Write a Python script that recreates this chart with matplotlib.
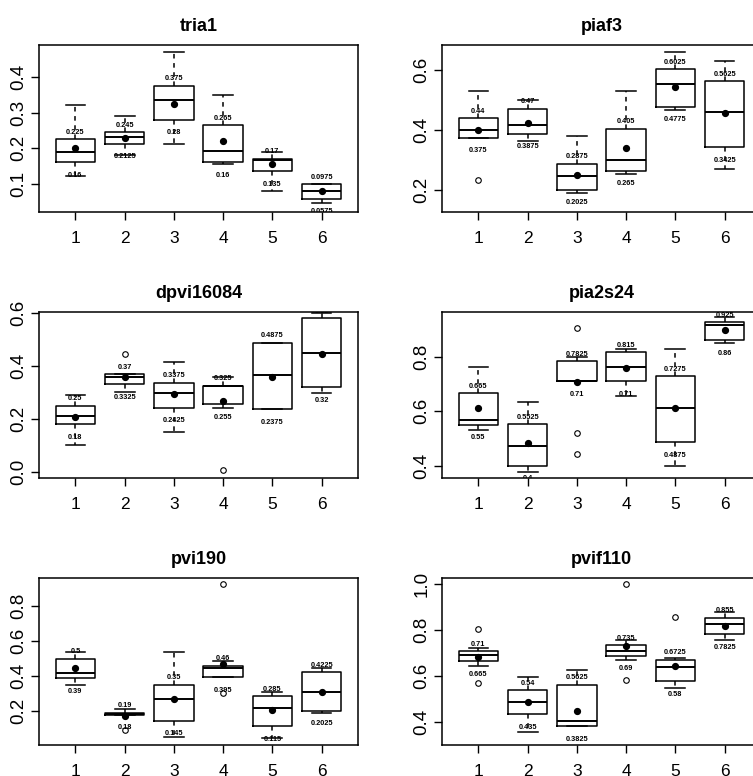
import matplotlib
matplotlib.use("Agg")
import matplotlib.pyplot as plt

plt.rcParams['font.family'] = ['Liberation Sans', 'DejaVu Sans']

groups = [1, 2, 3, 4, 5, 6]

# ---- tria1 ----
tria1_lo = [0.12, 0.18, 0.21, 0.155, 0.08, 0.045]
tria1_q1 = [0.16, 0.2125, 0.28, 0.16, 0.135, 0.0575]
tria1_med = [0.19, 0.23, 0.335, 0.193, 0.165, 0.078]
tria1_q3 = [0.225, 0.245, 0.375, 0.265, 0.17, 0.0975]
tria1_hi = [0.32, 0.29, 0.47, 0.35, 0.19, 0.0975]
tria1_mean = [0.20, 0.228, 0.325, 0.22, 0.154, 0.078]
tria1_out = [[], [], [], [], [], []]

# ---- piaf3 ----
piaf3_lo = [0.375, 0.3625, 0.19, 0.255, 0.465, 0.272]
piaf3_q1 = [0.375, 0.3875, 0.2025, 0.265, 0.4775, 0.3425]
piaf3_med = [0.40, 0.418, 0.246, 0.301, 0.553, 0.461]
piaf3_q3 = [0.44, 0.47, 0.2875, 0.405, 0.6025, 0.5625]
piaf3_hi = [0.53, 0.50, 0.38, 0.53, 0.66, 0.628]
piaf3_mean = [0.40, 0.424, 0.252, 0.340, 0.544, 0.457]
piaf3_out = [[0.235], [], [], [], [], []]

# ---- dpvi16084 ----
dpvi_lo = [0.10, 0.30, 0.15, 0.243, 0.2375, 0.297]
dpvi_q1 = [0.18, 0.3325, 0.2425, 0.255, 0.2375, 0.32]
dpvi_med = [0.213, 0.36, 0.297, 0.325, 0.366, 0.45]
dpvi_q3 = [0.25, 0.37, 0.3375, 0.325, 0.4875, 0.58]
dpvi_hi = [0.29, 0.37, 0.414, 0.357, 0.4875, 0.60]
dpvi_mean = [0.209, 0.357, 0.295, 0.266, 0.360, 0.444]
dpvi_out = [[], [0.446], [], [0.006], [], []]

# ---- pia2s24 ----
pia2_lo = [0.53, 0.378, 0.71, 0.656, 0.40, 0.85]
pia2_q1 = [0.55, 0.40, 0.71, 0.71, 0.4875, 0.86]
pia2_med = [0.568, 0.473, 0.71, 0.763, 0.61, 0.916]
pia2_q3 = [0.665, 0.5525, 0.7825, 0.815, 0.7275, 0.925]
pia2_hi = [0.762, 0.632, 0.80, 0.827, 0.827, 0.945]
pia2_mean = [0.612, 0.482, 0.705, 0.757, 0.612, 0.898]
pia2_out = [[], [], [0.904, 0.521, 0.443], [], [], []]

# ---- pvi190 ----
pvi_lo = [0.35, 0.18, 0.05, 0.395, 0.045, 0.19]
pvi_q1 = [0.39, 0.18, 0.145, 0.395, 0.115, 0.2025]
pvi_med = [0.42, 0.185, 0.267, 0.444, 0.219, 0.31]
pvi_q3 = [0.50, 0.19, 0.35, 0.46, 0.285, 0.4225]
pvi_hi = [0.54, 0.21, 0.537, 0.486, 0.309, 0.448]
pvi_mean = [0.448, 0.171, 0.270, 0.47, 0.206, 0.310]
pvi_out = [[], [0.09], [], [0.93, 0.305], [], []]

# ---- pvif110 ----
pvif_lo = [0.643, 0.356, 0.3825, 0.672, 0.548, 0.756]
pvif_q1 = [0.665, 0.435, 0.3825, 0.69, 0.58, 0.7825]
pvif_med = [0.693, 0.487, 0.407, 0.709, 0.64, 0.826]
pvif_q3 = [0.71, 0.54, 0.5625, 0.735, 0.6725, 0.855]
pvif_hi = [0.722, 0.596, 0.629, 0.756, 0.679, 0.879]
pvif_mean = [0.686, 0.487, 0.451, 0.734, 0.647, 0.821]
pvif_out = [[0.804, 0.570], [], [], [1.0, 0.582], [0.857], []]

panels = [
    ("tria1", tria1_lo, tria1_q1, tria1_med, tria1_q3, tria1_hi, tria1_mean, tria1_out,
     (0.02, 0.49), [0.1, 0.2, 0.3, 0.4]),
    ("piaf3", piaf3_lo, piaf3_q1, piaf3_med, piaf3_q3, piaf3_hi, piaf3_mean, piaf3_out,
     (0.128, 0.682), [0.2, 0.4, 0.6]),
    ("dpvi16084", dpvi_lo, dpvi_q1, dpvi_med, dpvi_q3, dpvi_hi, dpvi_mean, dpvi_out,
     (-0.023, 0.604), [0.0, 0.2, 0.4, 0.6]),
    ("pia2s24", pia2_lo, pia2_q1, pia2_med, pia2_q3, pia2_hi, pia2_mean, pia2_out,
     (0.355, 0.963), [0.4, 0.6, 0.8]),
    ("pvi190", pvi_lo, pvi_q1, pvi_med, pvi_q3, pvi_hi, pvi_mean, pvi_out,
     (0.006, 0.962), [0.2, 0.4, 0.6, 0.8]),
    ("pvif110", pvif_lo, pvif_q1, pvif_med, pvif_q3, pvif_hi, pvif_mean, pvif_out,
     (0.301, 1.028), [0.4, 0.6, 0.8, 1.0]),
]

W, H = 753, 776
fig = plt.figure(figsize=(W / 100, H / 100), dpi=100)

col_x = [(39, 358), (442, 761)]
row_y = [(45, 212), (312, 478), (578, 745)]

for i, (title, lo, q1, med, q3, hi, mean, out, ylim, yticks) in enumerate(panels):
    r, c = divmod(i, 2)
    x0, x1 = col_x[c]
    y0, y1 = row_y[r]
    ax = fig.add_axes([x0 / W, (H - y1) / H, (x1 - x0) / W, (y1 - y0) / H])

    stats = []
    for k in range(len(groups)):
        stats.append(dict(whislo=lo[k], q1=q1[k], med=med[k], q3=q3[k],
                          whishi=hi[k], mean=mean[k], fliers=out[k]))
    ax.bxp(stats, positions=groups, widths=0.8, capwidths=0.4,
           showmeans=True, showfliers=True,
           boxprops=dict(color='black', linewidth=1.1),
           whiskerprops=dict(color='black', linewidth=1.1, linestyle=(0, (3, 3))),
           capprops=dict(color='black', linewidth=1.1),
           medianprops=dict(color='black', linewidth=1.4),
           meanprops=dict(marker='o', markerfacecolor='black', markeredgecolor='black',
                          markersize=4.2),
           flierprops=dict(marker='o', markerfacecolor='none', markeredgecolor='black',
                           markersize=4, markeredgewidth=0.8))

    # quartile values written above and below each box
    for k, g in enumerate(groups):
        ax.annotate(f"{q3[k]:g}", xy=(g, q3[k]), xytext=(0, 5), textcoords='offset points',
                    ha='center', va='center', fontsize=5.3, fontweight='bold',
                    clip_on=True)
        ax.annotate(f"{q1[k]:g}", xy=(g, q1[k]), xytext=(0, -9.5), textcoords='offset points',
                    ha='center', va='center', fontsize=5.3, fontweight='bold',
                    clip_on=True)

    ax.set_xlim(0.26, 6.74)
    ax.set_ylim(*ylim)
    ax.set_xticks(groups)
    ax.set_xticklabels([str(g) for g in groups])
    ax.set_yticks(yticks)
    ax.set_yticklabels([f"{t:.1f}" for t in yticks], rotation=90, va='center')
    ax.tick_params(axis='both', length=5.5, width=1.0, colors='black')
    ax.tick_params(axis='x', pad=8, labelsize=12.5)
    ax.tick_params(axis='y', pad=3, labelsize=13.5)
    for s in ax.spines.values():
        s.set_linewidth(1.1)
        s.set_color('black')
    ax.set_title(title, fontsize=13, fontweight='bold', pad=10)

fig.savefig("out.png", dpi=100, facecolor='white')
